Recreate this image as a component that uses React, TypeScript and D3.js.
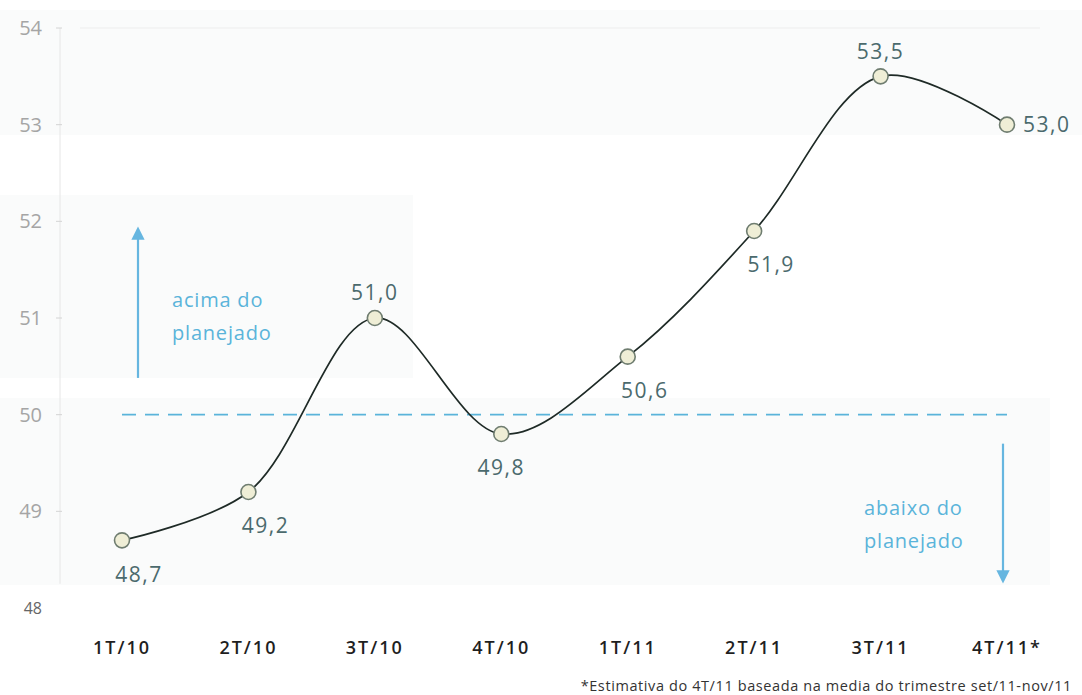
import { useEffect, useRef } from 'react'
import * as d3 from 'd3'

const quarters = ['1T/10', '2T/10', '3T/10', '4T/10', '1T/11', '2T/11', '3T/11', '4T/11*']
const values = [48.7, 49.2, 51.0, 49.8, 50.6, 51.9, 53.5, 53.0]
const yTicks = [48, 49, 50, 51, 52, 53, 54]
const plannedLevel = 50
const footnote = '*Estimativa do 4T/11 baseada na media do trimestre set/11-nov/11'

// where each value label sits relative to its point
const labelPlacement = ['below-right', 'below-right', 'above', 'below', 'below-right', 'below-right', 'above', 'right']

export default function App() {
  const svgRef = useRef<SVGSVGElement>(null)

  useEffect(() => {
    document.body.style.margin = '0'
    if (!svgRef.current) return

    const width = 1082
    const height = 695
    const font = '"Open Sans", "DejaVu Sans", sans-serif'

    const svg = d3.select(svgRef.current)
    svg.selectAll('*').remove()
    svg.attr('width', width).attr('height', height)

    const x = d3.scalePoint<string>().domain(quarters).range([122, 1007])
    const y = d3.scaleLinear().domain([48, 54]).range([608, 28])

    // faint scanned panels behind the plot
    const panels = [
      [0, 10, 1082, 125],
      [0, 195, 413, 183],
      [0, 398, 1050, 187],
    ]
    svg.append('g')
      .selectAll('rect')
      .data(panels)
      .enter().append('rect')
      .attr('x', d => d[0])
      .attr('y', d => d[1])
      .attr('width', d => d[2])
      .attr('height', d => d[3])
      .attr('fill', '#fafbfb')

    // y axis
    svg.append('line')
      .attr('x1', 60).attr('x2', 60)
      .attr('y1', y(54)).attr('y2', y(48.25))
      .attr('stroke', '#e6e6e6')

    svg.append('line')
      .attr('x1', 80).attr('x2', 1040)
      .attr('y1', y(54)).attr('y2', y(54))
      .attr('stroke', '#ededed')

    svg.append('g')
      .selectAll('line')
      .data(yTicks.filter(t => t > 48))
      .enter().append('line')
      .attr('x1', 56).attr('x2', 62)
      .attr('y1', d => y(d)).attr('y2', d => y(d))
      .attr('stroke', '#d4d4d4')

    svg.append('g')
      .selectAll('text')
      .data(yTicks)
      .enter().append('text')
      .attr('x', 42)
      .attr('y', d => y(d))
      .attr('dy', '0.35em')
      .attr('text-anchor', 'end')
      .attr('fill', d => d === 48 ? '#666' : '#a5a5a5')
      .attr('font-family', font)
      .attr('font-size', d => d === 48 ? 16 : 20)
      .text(d => d)

    // planned level
    svg.append('line')
      .attr('x1', x(quarters[0])!).attr('x2', x(quarters[quarters.length - 1])!)
      .attr('y1', y(plannedLevel)).attr('y2', y(plannedLevel))
      .attr('stroke', '#5ab4da')
      .attr('stroke-width', 1.6)
      .attr('stroke-dasharray', '14,9')

    // arrows
    const arrowColor = '#66b6e0'
    const defs = svg.append('defs')
    defs.append('marker')
      .attr('id', 'arrowhead')
      .attr('viewBox', '0 0 10 10')
      .attr('refX', 8).attr('refY', 5)
      .attr('markerWidth', 6).attr('markerHeight', 6)
      .attr('markerUnits', 'strokeWidth')
      .attr('orient', 'auto')
      .append('path')
      .attr('d', 'M0,0 L10,5 L0,10 Z')
      .attr('fill', arrowColor)

    svg.append('line')
      .attr('x1', 138).attr('x2', 138)
      .attr('y1', y(50.38)).attr('y2', y(51.92))
      .attr('stroke', arrowColor)
      .attr('stroke-width', 2.2)
      .attr('marker-end', 'url(#arrowhead)')

    svg.append('line')
      .attr('x1', 1003).attr('x2', 1003)
      .attr('y1', y(49.7)).attr('y2', y(48.28))
      .attr('stroke', arrowColor)
      .attr('stroke-width', 2.2)
      .attr('marker-end', 'url(#arrowhead)')

    const notes = [
      { x: 172, lines: ['acima do', 'planejado'], y0: 300 },
      { x: 864, lines: ['abaixo do', 'planejado'], y0: 508 },
    ]
    notes.forEach(n => {
      n.lines.forEach((line, i) => {
        svg.append('text')
          .attr('x', n.x)
          .attr('y', n.y0 + i * 33)
          .attr('dy', '0.35em')
          .attr('fill', '#5ab4da')
          .attr('font-family', font)
          .attr('font-size', 20)
          .attr('letter-spacing', 0.8)
          .text(line)
      })
    })

    // smooth line
    const points = values.map((v, i) => ({ q: quarters[i], v, place: labelPlacement[i] }))
    const line = d3.line<{ q: string, v: number }>()
      .x(d => x(d.q)!)
      .y(d => y(d.v))
      .curve(d3.curveCatmullRom.alpha(0.5))

    svg.append('path')
      .datum(points)
      .attr('d', line)
      .attr('fill', 'none')
      .attr('stroke', '#1e2a26')
      .attr('stroke-width', 1.7)

    svg.append('g')
      .selectAll('circle')
      .data(points)
      .enter().append('circle')
      .attr('cx', d => x(d.q)!)
      .attr('cy', d => y(d.v))
      .attr('r', 7.5)
      .attr('fill', '#efeed6')
      .attr('stroke', '#6f7d70')
      .attr('stroke-width', 1.6)

    // value labels
    const fmt = (v: number) => v.toFixed(1).replace('.', ',')
    svg.append('g')
      .selectAll('text')
      .data(points)
      .enter().append('text')
      .attr('x', d => {
        const px = x(d.q)!
        if (d.place === 'below-right') return px + 17
        if (d.place === 'right') return px + 16
        return px
      })
      .attr('y', d => {
        const py = y(d.v)
        if (d.place === 'above') return py - 25
        if (d.place === 'right') return py
        return py + 34
      })
      .attr('dy', '0.35em')
      .attr('text-anchor', d => d.place === 'right' ? 'start' : 'middle')
      .attr('fill', '#4b6a6d')
      .attr('font-family', font)
      .attr('font-size', 21)
      .attr('letter-spacing', 1.5)
      .text(d => fmt(d.v))

    // x axis labels
    svg.append('g')
      .selectAll('text')
      .data(quarters)
      .enter().append('text')
      .attr('x', d => x(d)!)
      .attr('y', 648)
      .attr('dy', '0.35em')
      .attr('text-anchor', 'middle')
      .attr('fill', '#1f1f1f')
      .attr('font-family', font)
      .attr('font-weight', 600)
      .attr('font-size', 18)
      .attr('letter-spacing', 2)
      .text(d => d)

    svg.append('text')
      .attr('x', 1072)
      .attr('y', 686)
      .attr('dy', '0.35em')
      .attr('text-anchor', 'end')
      .attr('fill', '#333')
      .attr('font-family', font)
      .attr('font-size', 14.5)
      .attr('letter-spacing', 0.6)
      .text(footnote)
  }, [])

  return <svg ref={svgRef} style={{ display: 'block', background: '#fff' }}></svg>
}
